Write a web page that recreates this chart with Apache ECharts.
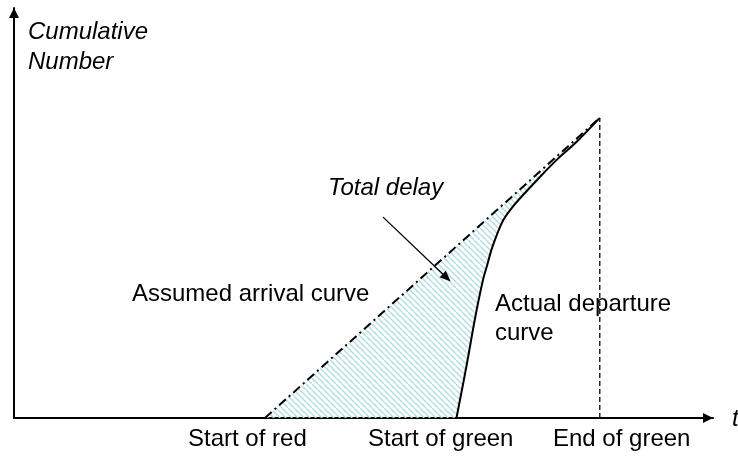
<!DOCTYPE html>
<html>
<head>
<meta charset="utf-8">
<script src="https://cdn.jsdelivr.net/npm/echarts@6/dist/echarts.min.js"></script>
<style>
  html, body { margin: 0; padding: 0; background: #fff; }
  #chart { width: 738px; height: 456px; }
</style>
</head>
<body>
<div id="chart"></div>
<script>
// Queueing diagram at a signalised approach (time vs. cumulative vehicles)
const arrivalT = [35.9, 83.8];
const arrivalN = [0, 73.2];

const departureT = [63.3, 64.8, 66.0, 67.1, 67.7, 68.3, 68.9, 70.0, 71.2, 72.4, 74.8, 77.6, 80.5, 83.8];
const departureN = [0, 13.3, 24.7, 33.7, 37.3, 41.0, 43.9, 48.3, 51.2, 53.6, 58.0, 62.9, 67.4, 73.2];

const endOfGreenT = 83.8;

const delayArrowT = [52.8, 61.9];
const delayArrowN = [49.0, 34.2];

const timeLabels = ['Start of red', 'Start of green', 'End of green'];
const axisTitleY = ['Cumulative', 'Number'];
const axisTitleX = 't';

const pair = (xs, ys) => xs.map((x, i) => [x, ys[i]]);

// diagonal hatch used for the delay area
const hatch = document.createElement('canvas');
hatch.width = 6; hatch.height = 6;
const hctx = hatch.getContext('2d');
hctx.strokeStyle = '#b3dce3';
hctx.lineWidth = 1.5;
for (let k = -1; k <= 1; k++) {
  hctx.beginPath();
  hctx.moveTo(k * 6, 0);
  hctx.lineTo(k * 6 + 6, 6);
  hctx.stroke();
}

const arrowHead = 'path://M5,0L10,10L0,10Z';
const font = '"Liberation Sans", Arial, sans-serif';

const chart = echarts.init(document.getElementById('chart'), null, { renderer: 'canvas' });

function txt(text, x, y, italic) {
  return {
    type: 'text', x: x, y: y, silent: true,
    style: {
      text: text, fill: '#000',
      font: (italic ? 'italic ' : '') + '24px ' + font,
      align: 'left', verticalAlign: 'middle'
    }
  };
}

chart.setOption({
  animation: false,
  backgroundColor: '#fff',
  grid: { left: 14, right: 25, top: 8, bottom: 38, containLabel: false },
  xAxis: {
    type: 'value', min: 0, max: 100,
    axisLine: {
      show: true, onZero: false,
      lineStyle: { color: '#000', width: 2 },
      symbol: ['none', arrowHead], symbolSize: [10, 11], symbolOffset: [0, -5]
    },
    axisTick: { show: false }, axisLabel: { show: false }, splitLine: { show: false }
  },
  yAxis: {
    type: 'value', min: 0, max: 100,
    axisLine: {
      show: true, onZero: false,
      lineStyle: { color: '#000', width: 2 },
      symbol: ['none', arrowHead], symbolSize: [10, 11], symbolOffset: [0, -5]
    },
    axisTick: { show: false }, axisLabel: { show: false }, splitLine: { show: false }
  },
  series: [
    {
      // total delay region between arrival and departure curves
      type: 'custom',
      silent: true,
      z: 1,
      data: [0],
      renderItem: function (params, api) {
        const pts = [];
        pair(arrivalT, arrivalN).forEach(p => pts.push(api.coord(p)));
        pair(departureT, departureN).reverse().forEach(p => pts.push(api.coord(p)));
        return {
          type: 'polygon',
          shape: { points: pts },
          style: { fill: { image: hatch, repeat: 'repeat' }, stroke: null }
        };
      }
    },
    {
      name: 'Assumed arrival curve',
      type: 'line', z: 3, symbol: 'none', silent: true,
      data: pair(arrivalT, arrivalN),
      lineStyle: { color: '#000', width: 2, type: [9, 4, 2, 4] }
    },
    {
      name: 'Actual departure curve',
      type: 'line', z: 4, symbol: 'none', silent: true,
      smooth: 0.4,
      data: pair(departureT, departureN),
      lineStyle: { color: '#000', width: 2 }
    },
    {
      name: 'End of green',
      type: 'line', z: 2, symbol: 'none', silent: true,
      data: [[endOfGreenT, 0], [endOfGreenT, arrivalN[1]]],
      lineStyle: { color: '#222', width: 1.5, type: [5, 3] }
    },
    {
      name: 'Total delay',
      type: 'line', z: 5, symbol: 'none', silent: true,
      data: [],
      markLine: {
        silent: true,
        symbol: ['none', arrowHead],
        symbolSize: [9, 11],
        label: { show: false },
        lineStyle: { color: '#000', width: 1.3, type: 'solid' },
        data: [[
          { coord: [delayArrowT[0], delayArrowN[0]] },
          { coord: [delayArrowT[1], delayArrowN[1]] }
        ]]
      }
    }
  ],
  graphic: [
    txt(axisTitleY[0], 28, 32.5, true),
    txt(axisTitleY[1], 28, 62.5, true),
    txt('Total delay', 328, 188, true),
    txt('Assumed arrival curve', 132, 294, false),
    txt('Actual departure', 495, 304, false),
    txt('curve', 495, 333, false),
    txt(timeLabels[0], 188, 439, false),
    txt(timeLabels[1], 368, 439, false),
    txt(timeLabels[2], 553, 439, false),
    txt(axisTitleX, 732, 419, true)
  ]
});
</script>
</body>
</html>
